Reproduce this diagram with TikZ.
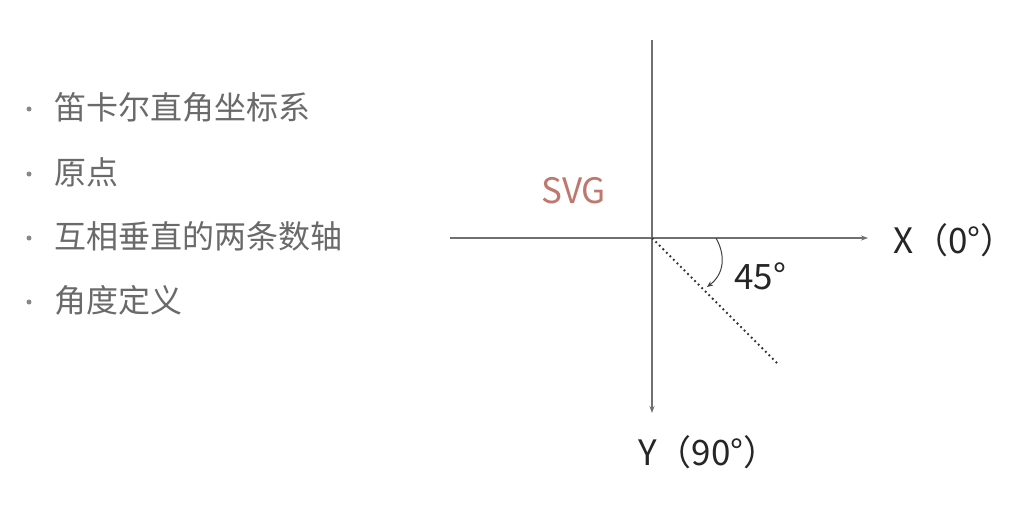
\documentclass[tikz,border=0pt]{standalone}
\usepackage{fontspec}
\setmainfont{Noto Sans CJK SC}
\usetikzlibrary{arrows.meta}
\definecolor{txtgray}{HTML}{6A6A6A}
\definecolor{axisgray}{HTML}{707070}
\definecolor{svgred}{HTML}{C0786E}
\tikzset{
  bullettext/.style={anchor=west, text=txtgray, font=\fontsize{32}{32}\selectfont, inner sep=0pt},
  bulletdot/.style={circle, fill=txtgray!80, inner sep=0pt, minimum size=5pt},
  axis/.style={draw=axisgray, line width=1.4pt, -{Stealth[length=7pt,width=5pt]}},
  label/.style={text=black!85, font=\fontsize{35}{35}\selectfont, inner sep=0pt},
}
\begin{document}
\begin{tikzpicture}[x=1pt,y=-1pt]
\useasboundingbox[fill=white] (0,0) rectangle (1022,516);
% bullet list
\node[bulletdot] (b1) at (29,109) {};
\node[bullettext] (t1) at (54,107) {笛卡尔直角坐标系};
\node[bulletdot] (b2) at (29,174) {};
\node[bullettext] (t2) at (54,172) {原点};
\node[bulletdot] (b3) at (29,238) {};
\node[bullettext] (t3) at (54,236) {互相垂直的两条数轴};
\node[bulletdot] (b4) at (29,302) {};
\node[bullettext] (t4) at (54,300) {角度定义};
% axes
\coordinate (o) at (652,238);
\coordinate (ytop) at (652,40);
\coordinate (yend) at (652,413);
\coordinate (xleft) at (450,238);
\coordinate (xend) at (868,238);
\draw[axis] (xleft) -- (xend);
\draw[axis] (ytop) -- (yend);
% dotted 45 line
\coordinate (d) at (778,364);
\draw[black!80, line width=1.8pt, dash pattern=on 1.8pt off 3.2pt] (o) -- (d);
% angle arc
\coordinate (a1) at (716,238);
\coordinate (a2) at (707,287);
\draw[black!75, line width=1pt, -{Stealth[length=6pt,width=5pt]}] (a1) .. controls (726,256) and (724,274) .. (a2);
% labels
\node[label, anchor=west] (l45) at (734,276) {45°};
\node[label, anchor=west] (lx) at (893,240) {X（0°）};
\node[label, anchor=west] (ly) at (638,452) {Y（90°）};
\node[label, text=svgred, anchor=west] (svg) at (541,191) {SVG};
\end{tikzpicture}
\end{document}
